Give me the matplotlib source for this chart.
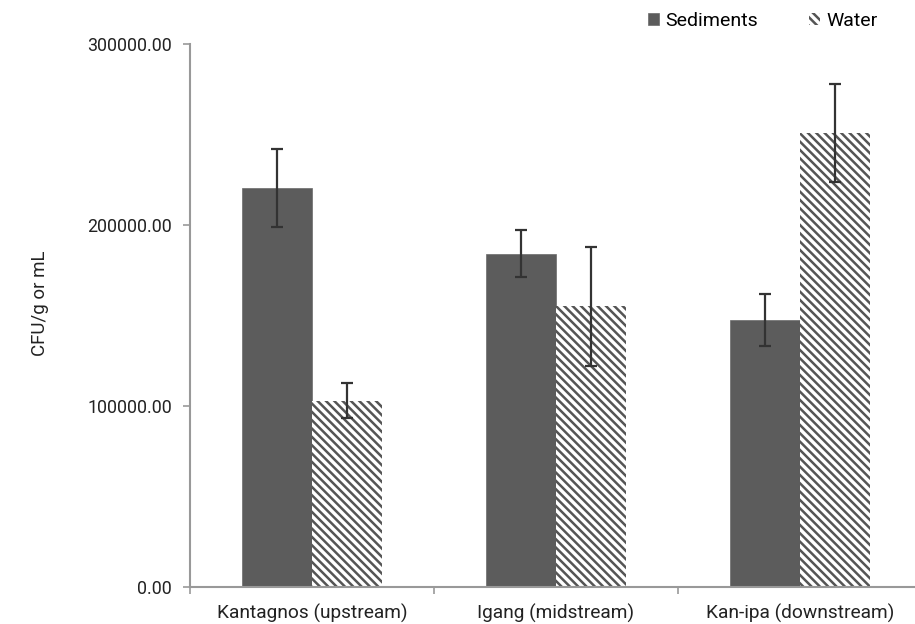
import matplotlib
matplotlib.use("Agg")
from matplotlib import pyplot as plt
import numpy as np

sites = ["Kantagnos (upstream)", "Igang (midstream)", "Kan-ipa (downstream)"]
sediments = [220500, 184000, 147500]
sediments_err = [21500, 13000, 14500]
water = [103000, 155000, 251000]
water_err = [9500, 33000, 27000]
yticks = [0, 100000, 200000, 300000]

plt.rcParams["font.family"] = ["Roboto", "DejaVu Sans"]
plt.rcParams["hatch.color"] = "#555555"
plt.rcParams["hatch.linewidth"] = 1.8

fig = plt.figure(figsize=(9.15, 6.24), dpi=100)
ax = fig.add_axes([190 / 915, 37 / 624, 732 / 915, 543 / 624])

x = np.arange(len(sites))
w = 0.285
err_kw = dict(ecolor="#333333", elinewidth=1.6, capsize=4, capthick=1.6)
ax.bar(x - w / 2, sediments, w, yerr=sediments_err, color="#5c5c5c",
       edgecolor="#6a6a6a", linewidth=0.5, label="Sediments", error_kw=err_kw)
ax.bar(x + w / 2, water, w, yerr=water_err, color="white", hatch="\\\\\\\\",
       edgecolor="#555555", linewidth=0, label="Water", error_kw=err_kw)

ax.set_xlim(-0.5, 2.5)
ax.set_ylim(0, 300000)
ax.set_yticks(yticks)
ax.set_yticklabels([f"{v:.2f}" for v in yticks], fontsize=12.8, color="#222222")
ax.set_xticks(x)
ax.set_xticklabels(sites, fontsize=13.8, color="#222222")
ax.set_xticks([-0.5, 0.5, 1.5, 2.5], minor=True)
ax.tick_params(axis="x", which="major", length=0, pad=12)
ax.tick_params(axis="x", which="minor", length=5, color="#999999", width=1.2)
ax.tick_params(axis="y", length=5, color="#999999", width=1.2, pad=8)

for side in ["top", "right"]:
    ax.spines[side].set_visible(False)
for side in ["left", "bottom"]:
    ax.spines[side].set_color("#999999")
    ax.spines[side].set_linewidth(1.5)

fig.text(40 / 915, 1 - 303 / 624, "CFU/g or mL", rotation=90, ha="center",
         va="center", fontsize=13.5, color="#222222")

ax.legend(loc="upper left", bbox_to_anchor=(648 / 915, 1 - 12 / 624),
          bbox_transform=fig.transFigure, ncol=2, frameon=False, fontsize=14,
          handlelength=0.55, handleheight=0.55, handletextpad=0.35,
          columnspacing=2.6, borderaxespad=0, borderpad=0)

fig.savefig("out.png", dpi=100)
